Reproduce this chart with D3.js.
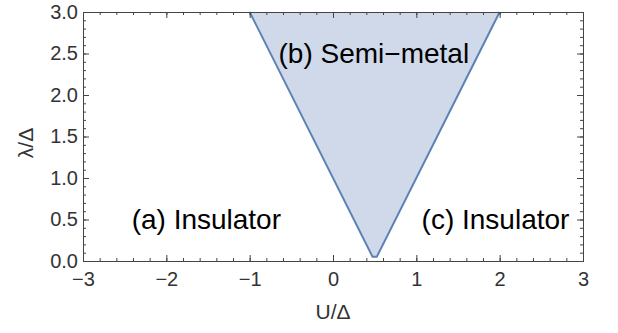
<!DOCTYPE html>
<html><head><meta charset="utf-8">
<script src="https://cdn.jsdelivr.net/npm/d3@7"></script>
<style>body{margin:0;background:#fff;}svg{display:block;font-family:"Liberation Sans",Arial,sans-serif;}</style>
</head><body>
<svg id="c" width="618" height="333"></svg>
<script>
const xTicks = [-3,-2,-1,0,1,2,3];
const yTicks = [0,0.5,1.0,1.5,2.0,2.5,3.0];
const boundaryU = [-1, 0.475, 0.525, 2];
const boundaryL = [3, 0.05, 0.05, 3];
const regionLabels = ["(a) Insulator", "(b) Semi\u2212metal", "(c) Insulator"];
const regionU = [-1.52, 0.49, 1.95];
const regionL = [0.39, 2.39, 0.39];

const svg = d3.select("#c");
const m = {l:83, r:583, t:12, b:261};
const x = d3.scaleLinear().domain([-3,3]).range([m.l,m.r]);
const y = d3.scaleLinear().domain([0,3]).range([m.b,m.t]);
const pts = boundaryU.map((u,i)=>[u,boundaryL[i]]);

svg.append("path").datum(pts)
  .attr("d", d3.line().x(d=>x(d[0])).y(d=>y(d[1])))
  .attr("fill","#d0d9ea").attr("stroke","none");
svg.append("path").datum(pts)
  .attr("d", d3.line().x(d=>x(d[0])).y(d=>y(d[1])))
  .attr("fill","none").attr("stroke","#5e81b5").attr("stroke-width",2).attr("stroke-linejoin","round");

const axisCol = "#444";
const minorX = d3.range(-3,3.001,0.2).map(v=>+v.toFixed(2));
const minorY = d3.range(0,3.001,0.1).map(v=>+v.toFixed(2));
const fmtY = d3.format(".1f");
const fmtX = d=> d<0 ? "\u2212"+Math.abs(d) : ""+d;

function addAxis(axis, tr){
  const g = svg.append("g").attr("transform",tr).call(axis);
  g.select(".domain").attr("stroke",axisCol).attr("stroke-width",1);
  g.selectAll(".tick line").attr("stroke",axisCol);
  g.selectAll(".tick text").attr("fill","#333").attr("font-size",20).attr("font-family","Liberation Sans, Arial, sans-serif");
  return g;
}
addAxis(d3.axisBottom(x).tickValues(minorX).tickSize(-3).tickFormat(""), `translate(0,${m.b})`);
addAxis(d3.axisBottom(x).tickValues(xTicks).tickSize(-6).tickPadding(11).tickFormat(fmtX), `translate(0,${m.b})`);
addAxis(d3.axisTop(x).tickValues(minorX).tickSize(-3).tickFormat(""), `translate(0,${m.t})`);
addAxis(d3.axisTop(x).tickValues(xTicks).tickSize(-6).tickFormat(""), `translate(0,${m.t})`);
addAxis(d3.axisLeft(y).tickValues(minorY).tickSize(-3).tickFormat(""), `translate(${m.l},0)`);
addAxis(d3.axisLeft(y).tickValues(yTicks).tickSize(-6).tickPadding(5).tickFormat(fmtY), `translate(${m.l},0)`);
addAxis(d3.axisRight(y).tickValues(minorY).tickSize(-3).tickFormat(""), `translate(${m.r},0)`);
addAxis(d3.axisRight(y).tickValues(yTicks).tickSize(-6).tickFormat(""), `translate(${m.r},0)`);

svg.append("text").attr("x",333).attr("y",319).attr("text-anchor","middle")
  .attr("font-size",21).attr("fill","#333").text("U/\u0394");
svg.append("text").attr("transform",`translate(33,143) rotate(-90)`).attr("text-anchor","middle")
  .attr("font-size",21).attr("fill","#333").text("\u03bb/\u0394");

regionLabels.forEach((t,i)=>{
  svg.append("text").attr("x",x(regionU[i])).attr("y",y(regionL[i])).attr("text-anchor","middle")
    .attr("font-size",28).attr("fill","#000").text(t);
});
</script>
</body></html>
